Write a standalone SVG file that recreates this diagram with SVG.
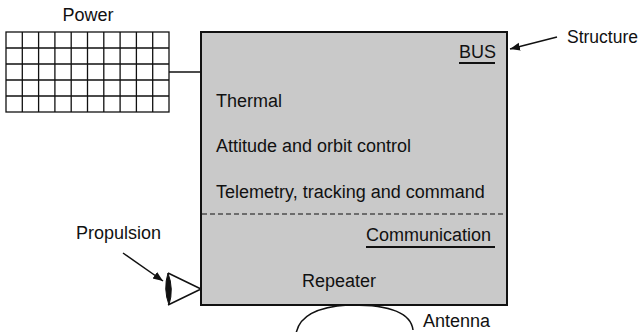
<svg xmlns="http://www.w3.org/2000/svg" width="639" height="332" viewBox="0 0 639 332">
<defs>
<style>
text{font-family:"Liberation Sans",Arial,sans-serif;font-size:18px;fill:#111}
.ln{stroke:#111;stroke-width:1.5;fill:none}
</style>
<marker id="ah" viewBox="0 0 10 10" refX="10" refY="5" markerWidth="10" markerHeight="10" markerUnits="userSpaceOnUse" orient="auto">
<path d="M0,1 L10,5 L0,9 Z" fill="#111"/>
</marker>
</defs>
<rect width="639" height="332" fill="#fff"/>
<g id="bus">
<rect x="201" y="32" width="306" height="273" fill="#c9c9c9" stroke="#111" stroke-width="2"/>
<text x="459" y="58">BUS</text>
<line x1="459" y1="63" x2="495" y2="63" stroke="#111" stroke-width="2"/>
<text x="216" y="107">Thermal</text>
<text x="216" y="152">Attitude and orbit control</text>
<text x="216" y="198">Telemetry, tracking and command</text>
<line x1="202" y1="214" x2="506" y2="214" stroke="#111" stroke-width="1.2" stroke-dasharray="5,3"/>
<text x="366" y="241">Communication</text>
<line x1="366" y1="247" x2="495" y2="247" stroke="#111" stroke-width="2"/>
<text x="302" y="287">Repeater</text>
</g>
<g id="power">
<text x="88" y="21" text-anchor="middle">Power</text>
<g stroke="#111" stroke-width="1.3">
<rect x="6" y="32" width="163" height="80" fill="#fff"/>
<path d="M22.3,32V112M38.6,32V112M54.9,32V112M71.2,32V112M87.5,32V112M103.8,32V112M120.1,32V112M136.4,32V112M152.7,32V112M6,48H169M6,64H169M6,80H169M6,96H169"/>
</g>
</g>
<g id="structure">
<text x="567" y="43" style="font-size:17.5px">Structure</text>
</g>
<g id="propulsion">
<text x="76" y="239">Propulsion</text>
<path d="M201,289 L168,273 M201,289 L168,305" class="ln"/>
<path d="M168,273 Q163,289 169,305 Q174,289 168,273 Z" fill="#111" stroke="#111" stroke-width="1"/>
</g>
<g id="antenna">
<path d="M296,334 Q300,308 348,305 Q410,304 413,330" class="ln"/>
<text x="423" y="327">Antenna</text>
</g>
<g id="connectors">
<line x1="169" y1="72" x2="201" y2="72" class="ln"/>
<line x1="557" y1="37" x2="510" y2="49" class="ln" marker-end="url(#ah)"/>
<line x1="123" y1="253" x2="163" y2="281" class="ln" marker-end="url(#ah)"/>
</g>
</svg>
